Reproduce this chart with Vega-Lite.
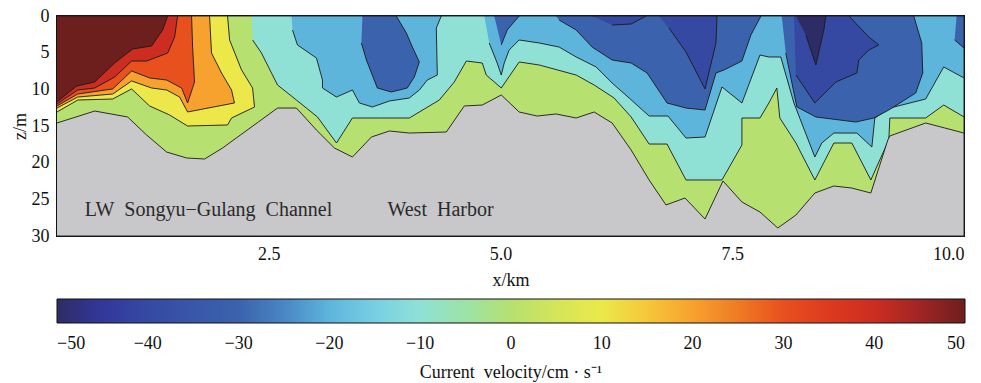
{
"$schema": "https://vega.github.io/schema/vega-lite/v6.json",
"width": 907, "height": 220,
"autosize": {"type": "none"},
"padding": {"left": 57, "top": 16, "right": 17, "bottom": 147},
"background": "white",
"config": {
 "view": {"stroke": "#111", "strokeWidth": 2},
 "font": "Liberation Serif",
 "axis": {"labelFont": "Liberation Serif", "labelFontSize": 18, "labelColor": "#111", "titleFont": "Liberation Serif", "titleFontSize": 18, "titleFontWeight": "normal", "titleColor": "#111", "tickColor": "#111", "tickSize": -7, "tickWidth": 1, "domain": false, "grid": false}
},
"datasets": {
 "poly": [
  {"p":"G","i":1,"x":0.215,"z":0,"v":0,"l":0},{"p":"G","i":2,"x":10,"z":0,"v":0,"l":0},{"p":"G","i":3,"x":10,"z":30,"v":0,"l":0},{"p":"G","i":4,"x":0.215,"z":30,"v":0,"l":0},

  {"p":"Y","i":1,"x":0.215,"z":0,"v":10,"l":1},{"p":"Y","i":2,"x":2.055,"z":0,"v":10,"l":1},{"p":"Y","i":3,"x":2.077,"z":3.27,"v":10,"l":1},{"p":"Y","i":4,"x":2.206,"z":7.36,"v":10,"l":1},{"p":"Y","i":5,"x":2.325,"z":9.82,"v":10,"l":1},{"p":"Y","i":6,"x":2.346,"z":12.41,"v":10,"l":1},{"p":"Y","i":7,"x":2.098,"z":13.91,"v":10,"l":1},{"p":"Y","i":8,"x":2.055,"z":14.86,"v":10,"l":1},{"p":"Y","i":9,"x":1.624,"z":15.0,"v":10,"l":1},{"p":"Y","i":10,"x":1.43,"z":13.5,"v":10,"l":1},{"p":"Y","i":11,"x":1.214,"z":12.27,"v":10,"l":1},{"p":"Y","i":12,"x":1.02,"z":9.95,"v":10,"l":1},{"p":"Y","i":13,"x":0.816,"z":11.32,"v":10,"l":1},{"p":"Y","i":14,"x":0.439,"z":11.46,"v":10,"l":1},{"p":"Y","i":15,"x":0.215,"z":13.09,"v":10,"l":1},

  {"p":"A","i":1,"x":2.314,"z":0,"v":-10,"l":1},{"p":"A","i":2,"x":10,"z":0,"v":-10,"l":1},{"p":"A","i":3,"x":10,"z":13.77,"v":-10,"l":1},{"p":"A","i":4,"x":9.781,"z":12.14,"v":-10,"l":1},{"p":"A","i":5,"x":9.587,"z":13.91,"v":-10,"l":1},{"p":"A","i":6,"x":9.2,"z":13.91,"v":-10,"l":1},{"p":"A","i":7,"x":9.189,"z":16.91,"v":-10,"l":1},{"p":"A","i":8,"x":9.081,"z":19.91,"v":-10,"l":1},{"p":"A","i":9,"x":8.995,"z":22.36,"v":-10,"l":1},{"p":"A","i":10,"x":8.79,"z":17.32,"v":-10,"l":1},{"p":"A","i":11,"x":8.596,"z":17.32,"v":-10,"l":1},{"p":"A","i":12,"x":8.391,"z":22.36,"v":-10,"l":1},{"p":"A","i":13,"x":8.187,"z":17.32,"v":-10,"l":1},{"p":"A","i":14,"x":8.013,"z":13.91,"v":-10,"l":1},{"p":"A","i":15,"x":7.981,"z":9.82,"v":-10,"l":1},{"p":"A","i":16,"x":7.895,"z":11.86,"v":-10,"l":1},{"p":"A","i":17,"x":7.799,"z":13.91,"v":-10,"l":1},{"p":"A","i":18,"x":7.604,"z":13.91,"v":-10,"l":1},{"p":"A","i":19,"x":7.604,"z":17.59,"v":-10,"l":1},{"p":"A","i":20,"x":7.389,"z":22.36,"v":-10,"l":1},{"p":"A","i":21,"x":7.001,"z":22.36,"v":-10,"l":1},{"p":"A","i":22,"x":6.796,"z":17.46,"v":-10,"l":1},{"p":"A","i":23,"x":6.603,"z":17.46,"v":-10,"l":1},{"p":"A","i":24,"x":6.409,"z":13.77,"v":-10,"l":1},{"p":"A","i":25,"x":6.225,"z":11.18,"v":-10,"l":1},{"p":"A","i":26,"x":6.01,"z":9.41,"v":-10,"l":1},{"p":"A","i":27,"x":5.816,"z":8.05,"v":-10,"l":1},{"p":"A","i":28,"x":5.417,"z":6.68,"v":-10,"l":1},{"p":"A","i":29,"x":5.201,"z":6.27,"v":-10,"l":1},{"p":"A","i":30,"x":5.008,"z":9.82,"v":-10,"l":1},{"p":"A","i":31,"x":4.846,"z":8.05,"v":-10,"l":1},{"p":"A","i":32,"x":4.803,"z":6.41,"v":-10,"l":1},{"p":"A","i":33,"x":4.631,"z":6.14,"v":-10,"l":1},{"p":"A","i":34,"x":4.501,"z":9.0,"v":-10,"l":1},{"p":"A","i":35,"x":4.339,"z":11.46,"v":-10,"l":1},{"p":"A","i":36,"x":4.016,"z":13.91,"v":-10,"l":1},{"p":"A","i":37,"x":3.693,"z":13.91,"v":-10,"l":1},{"p":"A","i":38,"x":3.402,"z":13.91,"v":-10,"l":1},{"p":"A","i":39,"x":3.23,"z":17.32,"v":-10,"l":1},{"p":"A","i":40,"x":3.025,"z":13.77,"v":-10,"l":1},{"p":"A","i":41,"x":2.798,"z":11.46,"v":-10,"l":1},{"p":"A","i":42,"x":2.594,"z":9.41,"v":-10,"l":1},{"p":"A","i":43,"x":2.421,"z":5.05,"v":-10,"l":1},{"p":"A","i":44,"x":2.325,"z":3.27,"v":-10,"l":1},

  {"p":"O","i":1,"x":0.215,"z":0,"v":20,"l":2},{"p":"O","i":2,"x":1.861,"z":0,"v":20,"l":2},{"p":"O","i":3,"x":1.882,"z":5.05,"v":20,"l":2},{"p":"O","i":4,"x":1.99,"z":7.77,"v":20,"l":2},{"p":"O","i":5,"x":2.098,"z":10.09,"v":20,"l":2},{"p":"O","i":6,"x":2.13,"z":11.86,"v":20,"l":2},{"p":"O","i":7,"x":1.624,"z":13.09,"v":20,"l":2},{"p":"O","i":8,"x":1.538,"z":11.05,"v":20,"l":2},{"p":"O","i":9,"x":1.398,"z":10.09,"v":20,"l":2},{"p":"O","i":10,"x":1.236,"z":9.82,"v":20,"l":2},{"p":"O","i":11,"x":1.02,"z":8.86,"v":20,"l":2},{"p":"O","i":12,"x":0.816,"z":10.64,"v":20,"l":2},{"p":"O","i":13,"x":0.439,"z":11.05,"v":20,"l":2},{"p":"O","i":14,"x":0.215,"z":12.55,"v":20,"l":2},

  {"p":"LB1","i":1,"x":2.745,"z":0,"v":-20,"l":2},{"p":"LB1","i":2,"x":4.361,"z":0,"v":-20,"l":2},{"p":"LB1","i":3,"x":4.307,"z":1.64,"v":-20,"l":2},{"p":"LB1","i":4,"x":4.318,"z":8.05,"v":-20,"l":2},{"p":"LB1","i":5,"x":4.21,"z":8.73,"v":-20,"l":2},{"p":"LB1","i":6,"x":4.124,"z":10.09,"v":-20,"l":2},{"p":"LB1","i":7,"x":4.016,"z":11.18,"v":-20,"l":2},{"p":"LB1","i":8,"x":3.801,"z":11.59,"v":-20,"l":2},{"p":"LB1","i":9,"x":3.618,"z":12.41,"v":-20,"l":2},{"p":"LB1","i":10,"x":3.477,"z":11.86,"v":-20,"l":2},{"p":"LB1","i":11,"x":3.402,"z":10.09,"v":-20,"l":2},{"p":"LB1","i":12,"x":3.23,"z":11.05,"v":-20,"l":2},{"p":"LB1","i":13,"x":3.079,"z":9.82,"v":-20,"l":2},{"p":"LB1","i":14,"x":3.079,"z":8.73,"v":-20,"l":2},{"p":"LB1","i":15,"x":3.014,"z":5.73,"v":-20,"l":2},{"p":"LB1","i":16,"x":2.809,"z":3.95,"v":-20,"l":2},{"p":"LB1","i":17,"x":2.756,"z":1.91,"v":-20,"l":2},

  {"p":"LB2","i":1,"x":4.825,"z":0,"v":-20,"l":2},{"p":"LB2","i":2,"x":10,"z":0,"v":-20,"l":2},{"p":"LB2","i":3,"x":10,"z":8.45,"v":-20,"l":2},{"p":"LB2","i":4,"x":9.781,"z":6.95,"v":-20,"l":2},{"p":"LB2","i":5,"x":9.587,"z":11.32,"v":-20,"l":2},{"p":"LB2","i":6,"x":9.2,"z":12.55,"v":-20,"l":2},{"p":"LB2","i":7,"x":9.038,"z":13.91,"v":-20,"l":2},{"p":"LB2","i":8,"x":9.006,"z":17.86,"v":-20,"l":2},{"p":"LB2","i":9,"x":8.844,"z":15.96,"v":-20,"l":2},{"p":"LB2","i":10,"x":8.596,"z":15.96,"v":-20,"l":2},{"p":"LB2","i":11,"x":8.466,"z":17.32,"v":-20,"l":2},{"p":"LB2","i":12,"x":8.391,"z":19.23,"v":-20,"l":2},{"p":"LB2","i":13,"x":8.165,"z":11.86,"v":-20,"l":2},{"p":"LB2","i":14,"x":8.023,"z":5.59,"v":-20,"l":2},{"p":"LB2","i":15,"x":7.895,"z":5.59,"v":-20,"l":2},{"p":"LB2","i":16,"x":7.799,"z":5.32,"v":-20,"l":2},{"p":"LB2","i":17,"x":7.604,"z":11.86,"v":-20,"l":2},{"p":"LB2","i":18,"x":7.389,"z":9.68,"v":-20,"l":2},{"p":"LB2","i":19,"x":7.206,"z":16.5,"v":-20,"l":2},{"p":"LB2","i":20,"x":7.001,"z":16.64,"v":-20,"l":2},{"p":"LB2","i":21,"x":6.806,"z":13.64,"v":-20,"l":2},{"p":"LB2","i":22,"x":6.603,"z":13.64,"v":-20,"l":2},{"p":"LB2","i":23,"x":6.387,"z":11.18,"v":-20,"l":2},{"p":"LB2","i":24,"x":6.204,"z":9.14,"v":-20,"l":2},{"p":"LB2","i":25,"x":6.031,"z":6.95,"v":-20,"l":2},{"p":"LB2","i":26,"x":5.816,"z":5.59,"v":-20,"l":2},{"p":"LB2","i":27,"x":5.632,"z":4.23,"v":-20,"l":2},{"p":"LB2","i":28,"x":5.417,"z":3.68,"v":-20,"l":2},{"p":"LB2","i":29,"x":5.201,"z":3.27,"v":-20,"l":2},{"p":"LB2","i":30,"x":5.093,"z":4.64,"v":-20,"l":2},{"p":"LB2","i":31,"x":5.04,"z":6.41,"v":-20,"l":2},{"p":"LB2","i":32,"x":5.008,"z":8.05,"v":-20,"l":2},{"p":"LB2","i":33,"x":4.964,"z":6.41,"v":-20,"l":2},{"p":"LB2","i":34,"x":4.878,"z":3.68,"v":-20,"l":2},

  {"p":"OR","i":1,"x":0.215,"z":0,"v":30,"l":3},{"p":"OR","i":2,"x":1.667,"z":0,"v":30,"l":3},{"p":"OR","i":3,"x":1.678,"z":4.23,"v":30,"l":3},{"p":"OR","i":4,"x":1.699,"z":9.0,"v":30,"l":3},{"p":"OR","i":5,"x":1.624,"z":11.86,"v":30,"l":3},{"p":"OR","i":6,"x":1.559,"z":9.82,"v":30,"l":3},{"p":"OR","i":7,"x":1.398,"z":8.73,"v":30,"l":3},{"p":"OR","i":8,"x":1.214,"z":8.45,"v":30,"l":3},{"p":"OR","i":9,"x":1.02,"z":7.5,"v":30,"l":3},{"p":"OR","i":10,"x":0.816,"z":9.95,"v":30,"l":3},{"p":"OR","i":11,"x":0.439,"z":10.64,"v":30,"l":3},{"p":"OR","i":12,"x":0.215,"z":12.27,"v":30,"l":3},

  {"p":"B1","i":1,"x":3.51,"z":0,"v":-30,"l":3},{"p":"B1","i":2,"x":3.875,"z":0,"v":-30,"l":3},{"p":"B1","i":3,"x":3.984,"z":2.32,"v":-30,"l":3},{"p":"B1","i":4,"x":4.049,"z":4.23,"v":-30,"l":3},{"p":"B1","i":5,"x":4.124,"z":6.27,"v":-30,"l":3},{"p":"B1","i":6,"x":4.07,"z":8.32,"v":-30,"l":3},{"p":"B1","i":7,"x":3.994,"z":9.82,"v":-30,"l":3},{"p":"B1","i":8,"x":3.822,"z":10.36,"v":-30,"l":3},{"p":"B1","i":9,"x":3.671,"z":9.82,"v":-30,"l":3},{"p":"B1","i":10,"x":3.553,"z":6.0,"v":-30,"l":3},{"p":"B1","i":11,"x":3.499,"z":3.68,"v":-30,"l":3},

  {"p":"B2","i":1,"x":4.932,"z":0,"v":-30,"l":3},{"p":"B2","i":2,"x":5.201,"z":0,"v":-30,"l":3},{"p":"B2","i":3,"x":5.072,"z":1.91,"v":-30,"l":3},{"p":"B2","i":4,"x":5.008,"z":3.95,"v":-30,"l":3},

  {"p":"B3","i":1,"x":5.6,"z":0,"v":-30,"l":3},{"p":"B3","i":2,"x":7.81,"z":0,"v":-30,"l":3},{"p":"B3","i":3,"x":7.701,"z":2.59,"v":-30,"l":3},{"p":"B3","i":4,"x":7.604,"z":6.14,"v":-30,"l":3},{"p":"B3","i":5,"x":7.411,"z":7.36,"v":-30,"l":3},{"p":"B3","i":6,"x":7.324,"z":7.77,"v":-30,"l":3},{"p":"B3","i":7,"x":7.206,"z":12.82,"v":-30,"l":3},{"p":"B3","i":8,"x":7.001,"z":12.55,"v":-30,"l":3},{"p":"B3","i":9,"x":6.796,"z":11.86,"v":-30,"l":3},{"p":"B3","i":10,"x":6.581,"z":7.77,"v":-30,"l":3},{"p":"B3","i":11,"x":6.409,"z":6.41,"v":-30,"l":3},{"p":"B3","i":12,"x":6.204,"z":6.0,"v":-30,"l":3},{"p":"B3","i":13,"x":5.988,"z":4.23,"v":-30,"l":3},{"p":"B3","i":14,"x":5.816,"z":1.91,"v":-30,"l":3},{"p":"B3","i":15,"x":5.632,"z":0.55,"v":-30,"l":3},

  {"p":"B4","i":1,"x":8.034,"z":0,"v":-30,"l":3},{"p":"B4","i":2,"x":9.458,"z":0,"v":-30,"l":3},{"p":"B4","i":3,"x":9.544,"z":3.68,"v":-30,"l":3},{"p":"B4","i":4,"x":9.555,"z":7.77,"v":-30,"l":3},{"p":"B4","i":5,"x":9.479,"z":10.5,"v":-30,"l":3},{"p":"B4","i":6,"x":9.189,"z":12.82,"v":-30,"l":3},{"p":"B4","i":7,"x":9.027,"z":13.91,"v":-30,"l":3},{"p":"B4","i":8,"x":8.833,"z":14.46,"v":-30,"l":3},{"p":"B4","i":9,"x":8.402,"z":13.77,"v":-30,"l":3},{"p":"B4","i":10,"x":8.197,"z":12.4,"v":-30,"l":3},{"p":"B4","i":11,"x":8.077,"z":5.05,"v":-30,"l":3},

  {"p":"B5","i":1,"x":9.92,"z":0,"v":-30,"l":3},{"p":"B5","i":2,"x":10,"z":0,"v":-30,"l":3},{"p":"B5","i":3,"x":10,"z":4.36,"v":-30,"l":3},{"p":"B5","i":4,"x":9.899,"z":3.27,"v":-30,"l":3},

  {"p":"R","i":1,"x":0.215,"z":0,"v":40,"l":4},{"p":"R","i":2,"x":1.516,"z":0,"v":40,"l":4},{"p":"R","i":3,"x":1.484,"z":2.86,"v":40,"l":4},{"p":"R","i":4,"x":1.409,"z":5.05,"v":40,"l":4},{"p":"R","i":5,"x":1.182,"z":6.14,"v":40,"l":4},{"p":"R","i":6,"x":1.02,"z":6.14,"v":40,"l":4},{"p":"R","i":7,"x":0.837,"z":8.32,"v":40,"l":4},{"p":"R","i":8,"x":0.622,"z":9.82,"v":40,"l":4},{"p":"R","i":9,"x":0.439,"z":10.09,"v":40,"l":4},{"p":"R","i":10,"x":0.215,"z":12.0,"v":40,"l":4},

  {"p":"DB1","i":1,"x":5.988,"z":0,"v":-40,"l":4},{"p":"DB1","i":2,"x":6.57,"z":0,"v":-40,"l":4},{"p":"DB1","i":3,"x":6.409,"z":1.09,"v":-40,"l":4},{"p":"DB1","i":4,"x":6.204,"z":1.23,"v":-40,"l":4},

  {"p":"DB2","i":1,"x":6.71,"z":0,"v":-40,"l":4},{"p":"DB2","i":2,"x":7.335,"z":0,"v":-40,"l":4},{"p":"DB2","i":3,"x":7.324,"z":3.68,"v":-40,"l":4},{"p":"DB2","i":4,"x":7.206,"z":9.95,"v":-40,"l":4},{"p":"DB2","i":5,"x":7.001,"z":4.91,"v":-40,"l":4},{"p":"DB2","i":6,"x":6.817,"z":1.64,"v":-40,"l":4},

  {"p":"DB3","i":1,"x":8.165,"z":0,"v":-40,"l":4},{"p":"DB3","i":2,"x":8.758,"z":0,"v":-40,"l":4},{"p":"DB3","i":3,"x":8.973,"z":2.86,"v":-40,"l":4},{"p":"DB3","i":4,"x":9.081,"z":3.95,"v":-40,"l":4},{"p":"DB3","i":5,"x":8.973,"z":4.64,"v":-40,"l":4},{"p":"DB3","i":6,"x":8.865,"z":6.0,"v":-40,"l":4},{"p":"DB3","i":7,"x":8.844,"z":7.77,"v":-40,"l":4},{"p":"DB3","i":8,"x":8.618,"z":9.0,"v":-40,"l":4},{"p":"DB3","i":9,"x":8.391,"z":11.86,"v":-40,"l":4},{"p":"DB3","i":10,"x":8.187,"z":8.05,"v":-40,"l":4},

  {"p":"DR","i":1,"x":0.215,"z":0,"v":50,"l":5},{"p":"DR","i":2,"x":1.409,"z":0,"v":50,"l":5},{"p":"DR","i":3,"x":1.355,"z":1.91,"v":50,"l":5},{"p":"DR","i":4,"x":1.236,"z":4.09,"v":50,"l":5},{"p":"DR","i":5,"x":1.031,"z":4.5,"v":50,"l":5},{"p":"DR","i":6,"x":0.837,"z":6.41,"v":50,"l":5},{"p":"DR","i":7,"x":0.622,"z":9.0,"v":50,"l":5},{"p":"DR","i":8,"x":0.428,"z":9.55,"v":50,"l":5},{"p":"DR","i":9,"x":0.215,"z":11.73,"v":50,"l":5},

  {"p":"N","i":1,"x":8.187,"z":0,"v":-50,"l":5},{"p":"N","i":2,"x":8.51,"z":0,"v":-50,"l":5},{"p":"N","i":3,"x":8.488,"z":1.91,"v":-50,"l":5},{"p":"N","i":4,"x":8.402,"z":6.68,"v":-50,"l":5},{"p":"N","i":5,"x":8.294,"z":2.59,"v":-50,"l":5}
 ],
 "bed": [
  {"i":1,"x":0.215,"z":14.59},{"i":2,"x":0.622,"z":12.96},{"i":3,"x":0.977,"z":13.77},{"i":4,"x":1.182,"z":16.23},{"i":5,"x":1.398,"z":18.55},{"i":6,"x":1.613,"z":19.36},{"i":7,"x":1.807,"z":19.5},{"i":8,"x":2.001,"z":18.0},{"i":9,"x":2.594,"z":12.55},{"i":10,"x":2.798,"z":12.55},{"i":11,"x":3.014,"z":15.55},{"i":12,"x":3.208,"z":18.0},{"i":13,"x":3.402,"z":19.23},{"i":14,"x":3.607,"z":16.5},{"i":15,"x":3.801,"z":15.68},{"i":16,"x":4.016,"z":15.96},{"i":17,"x":4.415,"z":15.82},{"i":18,"x":4.609,"z":12.27},{"i":19,"x":4.803,"z":12.14},{"i":20,"x":5.008,"z":10.77},{"i":21,"x":5.201,"z":13.09},{"i":22,"x":5.395,"z":13.64},{"i":23,"x":5.6,"z":13.36},{"i":24,"x":5.816,"z":13.91},{"i":25,"x":6.01,"z":13.09},{"i":26,"x":6.204,"z":14.59},{"i":27,"x":6.409,"z":18.27},{"i":28,"x":6.603,"z":22.36},{"i":29,"x":6.785,"z":25.77},{"i":30,"x":6.99,"z":24.82},{"i":31,"x":7.206,"z":27.68},{"i":32,"x":7.4,"z":22.5},{"i":33,"x":7.604,"z":25.36},{"i":34,"x":7.799,"z":26.73},{"i":35,"x":7.991,"z":28.91},{"i":36,"x":8.187,"z":27.14},{"i":37,"x":8.391,"z":24.14},{"i":38,"x":8.596,"z":23.18},{"i":39,"x":8.79,"z":23.46},{"i":40,"x":8.995,"z":24.14},{"i":41,"x":9.178,"z":16.91},{"i":42,"x":9.2,"z":16.36},{"i":43,"x":9.587,"z":14.59},{"i":44,"x":9.792,"z":15.27},{"i":45,"x":10,"z":15.96},{"i":46,"x":10,"z":30},{"i":47,"x":0.215,"z":30}
 ],
 "labels": [
  {"label":"LW\u2002Songyu−Gulang\u2002Channel","x":0.514,"z":26.5},
  {"label":"West\u2002Harbor","x":3.78,"z":26.5}
 ]
},
"resolve": {"axis": {"x": "independent", "y": "independent"}},
"layer": [
 {
  "data": {"name": "poly"},
  "transform": [{"filter": "datum.l == 0"}],
  "mark": {"type": "line", "filled": true, "stroke": "#1a1a1a", "strokeWidth": 0.9},
  "encoding": {
   "x": {"field": "x", "type": "quantitative", "scale": {"domain": [0.215, 10], "nice": false, "zero": false},
         "axis": {"orient": "bottom", "values": [2.5, 5, 7.5, 10], "format": ".1f", "title": "x/km", "labelPadding": 16, "titlePadding": 8}},
   "y": {"field": "z", "type": "quantitative", "scale": {"domain": [0, 30], "reverse": true, "nice": false, "zero": false},
         "axis": {"orient": "left", "values": [0, 5, 10, 15, 20, 25, 30], "title": "z/m", "labelPadding": 15, "titlePadding": 2}},
   "detail": {"field": "p"},
   "order": {"field": "i", "type": "quantitative"},
   "color": {"field": "v", "type": "quantitative",
     "scale": {"domain": [-50,-45,-40,-35,-30,-25,-20,-15,-10,-5,0,5,10,15,20,25,30,35,40,45,50],
               "range": ["#2e2c66","#31389a","#3549a3","#3857a8","#3b62ad","#4a86c4","#5db5dc","#78cfe3","#8fe1d6","#9ce2a6","#b6e06f","#d4e55a","#ece84a","#f5c73a","#f7a22e","#ef7b24","#e8501e","#dd3a1f","#cc2d20","#a02524","#6d1f1e"]},
     "legend": {"orient": "none", "legendX": 0, "legendY": 283, "direction": "horizontal", "gradientLength": 908, "gradientThickness": 24,
       "values": [-50,-40,-30,-20,-10,0,10,20,30,40,50], "format": "d",
       "title": "Current\u2002velocity/cm · s⁻¹", "titleOrient": "bottom", "titleAnchor": "middle", "titlePadding": 11, "titleLimit": 600,
       "labelOffset": 12, "labelAlign": "center", "labelOverlap": false,
       "labelFont": "Liberation Serif", "labelFontSize": 18, "labelColor": "#111",
       "titleFont": "Liberation Serif", "titleFontSize": 18, "titleFontWeight": "normal", "titleColor": "#111",
       "gradientStrokeColor": "#111", "gradientStrokeWidth": 1}}
  }
 },
 {
  "data": {"name": "poly"},
  "transform": [{"filter": "datum.l == 1"}],
  "mark": {"type": "line", "filled": true, "stroke": "#1a1a1a", "strokeWidth": 0.9},
  "encoding": {
   "x": {"field": "x", "type": "quantitative", "axis": null},
   "y": {"field": "z", "type": "quantitative", "axis": null},
   "detail": {"field": "p"},
   "order": {"field": "i", "type": "quantitative"},
   "color": {"field": "v", "type": "quantitative"}
  }
 },
 {
  "data": {"name": "poly"},
  "transform": [{"filter": "datum.l == 2"}],
  "mark": {"type": "line", "filled": true, "stroke": "#1a1a1a", "strokeWidth": 0.9},
  "encoding": {
   "x": {"field": "x", "type": "quantitative", "axis": null},
   "y": {"field": "z", "type": "quantitative", "axis": null},
   "detail": {"field": "p"},
   "order": {"field": "i", "type": "quantitative"},
   "color": {"field": "v", "type": "quantitative"}
  }
 },
 {
  "data": {"name": "poly"},
  "transform": [{"filter": "datum.l == 3"}],
  "mark": {"type": "line", "filled": true, "stroke": "#1a1a1a", "strokeWidth": 0.9},
  "encoding": {
   "x": {"field": "x", "type": "quantitative", "axis": null},
   "y": {"field": "z", "type": "quantitative", "axis": null},
   "detail": {"field": "p"},
   "order": {"field": "i", "type": "quantitative"},
   "color": {"field": "v", "type": "quantitative"}
  }
 },
 {
  "data": {"name": "poly"},
  "transform": [{"filter": "datum.l == 4"}],
  "mark": {"type": "line", "filled": true, "stroke": "#1a1a1a", "strokeWidth": 0.9},
  "encoding": {
   "x": {"field": "x", "type": "quantitative", "axis": null},
   "y": {"field": "z", "type": "quantitative", "axis": null},
   "detail": {"field": "p"},
   "order": {"field": "i", "type": "quantitative"},
   "color": {"field": "v", "type": "quantitative"}
  }
 },
 {
  "data": {"name": "poly"},
  "transform": [{"filter": "datum.l == 5"}],
  "mark": {"type": "line", "filled": true, "stroke": "#1a1a1a", "strokeWidth": 0.9},
  "encoding": {
   "x": {"field": "x", "type": "quantitative", "axis": null},
   "y": {"field": "z", "type": "quantitative", "axis": null},
   "detail": {"field": "p"},
   "order": {"field": "i", "type": "quantitative"},
   "color": {"field": "v", "type": "quantitative"}
  }
 },
 {
  "data": {"name": "bed"},
  "mark": {"type": "line", "filled": true, "fill": "#c8c8ca", "stroke": "#1a1a1a", "strokeWidth": 0.9},
  "encoding": {
   "x": {"field": "x", "type": "quantitative", "axis": {"orient": "top", "values": [2.5, 5, 7.5, 10], "labels": false, "title": null}},
   "y": {"field": "z", "type": "quantitative", "axis": {"orient": "right", "values": [0, 5, 10, 15, 20, 25, 30], "labels": false, "title": null}},
   "order": {"field": "i", "type": "quantitative"}
  }
 },
 {
  "data": {"name": "labels"},
  "mark": {"type": "text", "align": "left", "baseline": "middle", "font": "Liberation Serif", "fontSize": 20, "fill": "#2a2a2a"},
  "encoding": {
   "x": {"field": "x", "type": "quantitative", "axis": null},
   "y": {"field": "z", "type": "quantitative", "axis": null},
   "text": {"field": "label"}
  }
 }
]
}
